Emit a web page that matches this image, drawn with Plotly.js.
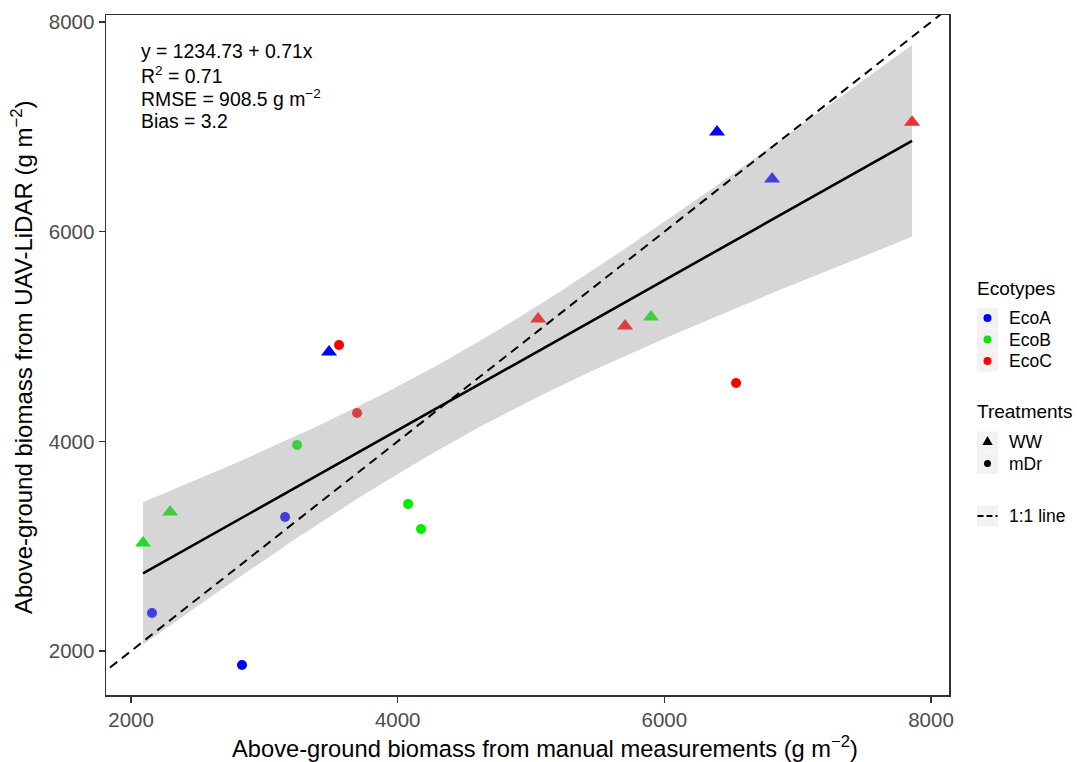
<!DOCTYPE html>
<html>
<head>
<meta charset="utf-8">
<script src="https://cdn.plot.ly/plotly-3.0.1.min.js"></script>
<style>html,body{margin:0;padding:0;background:#fff}#chart{width:1077px;height:762px}</style>
</head>
<body>
<div id="chart"></div>
<script>
// ---- data ----
const manualBiomass = [2832, 2157, 3155, 3485, 6395, 6808, 2090, 2293, 3245, 4078, 4175, 5900, 3560, 3695, 5053, 5705, 6538, 7858];
const lidarBiomass  = [1866, 2362, 3278, 4852, 6950, 6502, 3030, 3325, 3965, 3402, 3164, 5185, 4919, 4270, 5166, 5100, 4557, 7045];
const ecotype   = ['EcoA','EcoA','EcoA','EcoA','EcoA','EcoA','EcoB','EcoB','EcoB','EcoB','EcoB','EcoB','EcoC','EcoC','EcoC','EcoC','EcoC','EcoC'];
const treatment = ['mDr','mDr','mDr','WW','WW','WW','WW','WW','mDr','mDr','mDr','WW','mDr','mDr','WW','WW','mDr','WW'];
const ecotypeNames = ['EcoA','EcoB','EcoC'];
const treatmentNames = ['WW','mDr'];
const tickValues = [2000, 4000, 6000, 8000];
const statLines = ['y = 1234.73 + 0.71x', 'R<sup>2</sup> = 0.71', 'RMSE = 908.5 g m<sup>\u22122</sup>', 'Bias = 3.2'];
const legendTitles = ['Ecotypes', 'Treatments'];
const oneToOneLabel = '1:1 line';
const xTitle = 'Above-ground biomass from manual measurements (g m<sup>\u22122</sup>)';
const yTitle = 'Above-ground biomass from UAV-LiDAR (g m<sup>\u22122</sup>)';

// ---- styles ----
const pointColors = ['#0000ff','#4040dc','#4040dc','#0000ff','#0000ff','#4040dc',
                     '#1fdd1f','#3fcd3f','#3fcd3f','#00ee00','#00ee00','#3fcd3f',
                     '#ff0000','#d94040','#d94040','#d94040','#ff0000','#e83333'];
const ecoColors = {EcoA:'#0000ff', EcoB:'#11dd11', EcoC:'#ff0000'};
const symbolOf = {WW:'triangle-up', mDr:'circle'};
const xRange = [1812, 8135];
const yRange = [1580, 8067];
const FONT = 'Liberation Sans, Arial, Helvetica, sans-serif';
const W = 1077, H = 762, M = {l:106, r:128, t:15, b:67};
const PW = W - M.l - M.r, PH = H - M.t - M.b;
const px = x => (x - M.l) / PW;       // pixel -> paper x
const py = y => (H - M.b - y) / PH;   // pixel -> paper y

// ---- linear model + 95% CI (as geom_smooth(method="lm")) ----
const n = manualBiomass.length;
const xbar = manualBiomass.reduce((a,b)=>a+b,0)/n;
const ybar = lidarBiomass.reduce((a,b)=>a+b,0)/n;
let Sxx=0, Sxy=0;
for (let i=0;i<n;i++){ Sxx += (manualBiomass[i]-xbar)**2; Sxy += (manualBiomass[i]-xbar)*(lidarBiomass[i]-ybar); }
const slope = Sxy/Sxx, intercept = ybar - slope*xbar;
let SSE = 0;
for (let i=0;i<n;i++){ SSE += (lidarBiomass[i]-intercept-slope*manualBiomass[i])**2; }
const s = Math.sqrt(SSE/(n-2));
const tq = 2.1199; // t(0.975, df=16)
const xmin = Math.min(...manualBiomass), xmax = Math.max(...manualBiomass);
const gx=[], gy=[], lo=[], hi=[];
for (let k=0;k<80;k++){
  const x = xmin + (xmax-xmin)*k/79;
  const y = intercept + slope*x;
  const se = s*Math.sqrt(1/n + (x-xbar)**2/Sxx);
  gx.push(x); gy.push(y); lo.push(y - tq*se); hi.push(y + tq*se);
}

const traces = [];
traces.push({x: gx.concat(gx.slice().reverse()), y: hi.concat(lo.slice().reverse()), type:'scatter', mode:'lines',
  fill:'toself', fillcolor:'rgba(153,153,153,0.4)', line:{width:0, color:'rgba(0,0,0,0)'}, hoverinfo:'skip', showlegend:false});
traces.push({x: gx, y: gy, type:'scatter', mode:'lines', line:{color:'#000', width:2.6}, showlegend:false, hoverinfo:'skip'});
traces.push({x: [xRange[0]-500, xRange[1]+500], y: [xRange[0]-500, xRange[1]+500], type:'scatter', mode:'lines',
  line:{color:'#000', width:2, dash:'9px,6px'}, showlegend:false, hoverinfo:'skip'});
traces.push({x: manualBiomass, y: lidarBiomass, type:'scatter', mode:'markers',
  marker:{color: pointColors, opacity:1, symbol: treatment.map(t=>symbolOf[t]), size: treatment.map(t=> t==='WW'?14:10), line:{width:0}},
  text: ecotype.map((e,i)=>e+' / '+treatment[i]), showlegend:false, cliponaxis:false});

// ---- annotations: stats text ----
const annotations = statLines.map((t,i)=>({
  text: t, xref:'paper', yref:'paper', x: px(139), y: py([51, 74.5, 98, 121][i]),
  xanchor:'left', yanchor:'middle', showarrow:false, font:{size:19.4, color:'#000', family:FONT}
}));

// axis titles
annotations.push({text:xTitle, xref:'paper', yref:'paper', x:px(545), y:py(747), xanchor:'center', yanchor:'middle',
  showarrow:false, font:{size:23.7, color:'#000', family:FONT}});
annotations.push({text:yTitle, xref:'paper', yref:'paper', x:px(22), y:py(357), xanchor:'center', yanchor:'middle',
  textangle:-90, showarrow:false, font:{size:24, color:'#000', family:FONT}});

// ---- legend (drawn by hand, ggplot style) ----
const shapes = [];
const keyX = 987.5;
function keyBox(cy){
  shapes.push({type:'rect', xref:'paper', yref:'paper', xsizemode:'pixel', ysizemode:'pixel',
    xanchor:px(keyX), yanchor:py(cy), x0:-10.5, x1:10.5, y0:-10.5, y1:10.5,
    fillcolor:'#f2f2f2', line:{width:0}, layer:'below'});
}
function keyCircle(cy, color, r){
  shapes.push({type:'circle', xref:'paper', yref:'paper', xsizemode:'pixel', ysizemode:'pixel',
    xanchor:px(keyX), yanchor:py(cy), x0:-r, x1:r, y0:-r, y1:r, fillcolor:color, line:{width:0}});
}
function keyTriangle(cy, color){
  shapes.push({type:'path', xref:'paper', yref:'paper', xsizemode:'pixel', ysizemode:'pixel',
    xanchor:px(keyX), yanchor:py(cy), path:'M -5.2,-3 L 5.2,-3 L 0,6 Z', fillcolor:color, line:{width:0}});
}
function legendText(text, cy, x, size){
  annotations.push({text:text, xref:'paper', yref:'paper', x:px(x), y:py(cy), xanchor:'left', yanchor:'middle',
    showarrow:false, font:{size:size, color:'#000', family:FONT}});
}
legendText(legendTitles[0], 288, 975, 19);
const ecoY = [318, 339.5, 361];
ecotypeNames.forEach((e,i)=>{ keyBox(ecoY[i]); keyCircle(ecoY[i], ecoColors[e], 4); legendText(e, ecoY[i], 1007, 17.5); });
legendText(legendTitles[1], 412, 975, 19);
const trtY = [442, 463.5];
treatmentNames.forEach((t,i)=>{
  keyBox(trtY[i]);
  if (symbolOf[t]==='triangle-up') keyTriangle(trtY[i], '#000'); else keyCircle(trtY[i], '#000', 3.5);
  legendText(t, trtY[i], 1007, 17.5);
});
keyBox(516);
shapes.push({type:'line', xref:'paper', yref:'paper', xsizemode:'pixel', ysizemode:'pixel',
  xanchor:px(keyX), yanchor:py(516), x0:-10, x1:10, y0:0, y1:0, line:{color:'#000', width:2, dash:'6px,3px'}});
legendText(oneToOneLabel, 516, 1007, 17.5);

const axisCommon = {
  showgrid:false, zeroline:false, showline:true, mirror:true, linecolor:'#333', linewidth:1.5,
  ticks:'outside', ticklen:6, tickwidth:1.5, tickcolor:'#333',
  tickfont:{size:20.5, color:'#4d4d4d', family:FONT}, tickvals: tickValues, ticktext: tickValues.map(String)
};

const layout = {
  width:W, height:H,
  margin:M,
  paper_bgcolor:'#fff', plot_bgcolor:'#fff',
  font:{family:FONT, color:'#000'},
  xaxis: Object.assign({}, axisCommon, {range:xRange}),
  yaxis: Object.assign({}, axisCommon, {range:yRange}),
  showlegend:false,
  annotations: annotations,
  shapes: shapes
};

Plotly.newPlot('chart', traces, layout, {displayModeBar:false, staticPlot:true});
</script>
</body>
</html>
